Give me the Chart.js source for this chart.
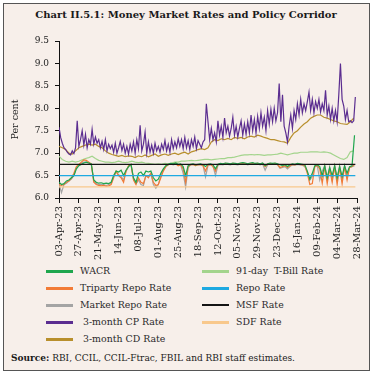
<!DOCTYPE html>
<html>
<head>
<meta charset="utf-8">
<script src="https://cdn.jsdelivr.net/npm/chart.js@4.4.0/dist/chart.umd.min.js"></script>
<style>
  html, body { margin: 0; padding: 0; background: #ffffff; }
  #card { position: absolute; left: 3px; top: 3px; width: 367px; height: 368px; box-sizing: border-box; border: 1px solid #555; background: #f7efea; }
  #title { position: absolute; left: 0; top: 9px; width: 372px; text-align: center; font: bold 10px "DejaVu Serif", serif; color: #1a1a1a; white-space: nowrap; }
  #chartWrap { position: absolute; left: 0; top: 0; width: 372px; height: 262px; }
  .lg-line { position: absolute; width: 27px; height: 3px; }
  .lg-text { position: absolute; font: 9.4px "DejaVu Serif", serif; color: #2a2a2a; white-space: pre; line-height: 12px; }
  #source { position: absolute; left: 11px; top: 353px; font: 9px "DejaVu Serif", serif; color: #1a1a1a; white-space: nowrap; }
</style>
</head>
<body>
<div id="card"></div>
<div id="title">Chart II.5.1: Money Market Rates and Policy Corridor</div>
<div id="chartWrap"><canvas id="c" width="372" height="262"></canvas></div>
<div id="legend"></div>
<div id="source"><b>Source:</b> RBI, CCIL, CCIL-Ftrac, FBIL and RBI staff estimates.</div>
<script>
// ---- Tick labels (x axis, every 24 days from 03-Apr-23) ----
const tickLabels = ['03-Apr-23','27-Apr-23','21-May-23','14-Jun-23','08-Jul-23','01-Aug-23','25-Aug-23','18-Sep-23','12-Oct-23','05-Nov-23','29-Nov-23','23-Dec-23','16-Jan-24','09-Feb-24','04-Mar-24','28-Mar-24'];
const tickStepDays = 24;
const yTicks = [6.0, 6.5, 7.0, 7.5, 8.0, 8.5, 9.0, 9.5];

// ---- Series names ----
const seriesNames = ['WACR','91-day  T-Bill Rate','Triparty Repo Rate','Repo Rate','Market Repo Rate','MSF Rate',' 3-month CP Rate','SDF Rate',' 3-month CD Rate'];

// ---- Policy corridor (constant through the year) ----
const policyDays = [0, 358];
const repoRate = [6.5, 6.5];
const msfRate = [6.75, 6.75];
const sdfRate = [6.25, 6.25];

// ---- Overnight rates, one reading every 3 days from 03-Apr-23 ----
const overnightStepDays = 3;
const wacrRate = [
  6.35,6.3,6.32,6.38,6.4,6.45,6.5,6.65,6.72,6.75,
  6.78,6.8,6.78,6.76,6.4,6.35,6.33,6.34,6.32,6.33,
  6.32,6.35,6.5,6.6,6.58,6.62,6.5,6.62,6.7,6.75,
  6.45,6.35,6.55,6.58,6.5,6.6,6.58,6.6,6.45,6.38,
  6.42,6.55,6.65,6.72,6.75,6.77,6.76,6.78,6.75,6.76,
  6.7,6.5,6.72,6.75,6.76,6.74,6.75,6.76,6.74,6.7,
  6.75,6.76,6.74,6.65,6.75,6.77,6.76,6.78,6.77,6.76,
  6.78,6.77,6.76,6.78,6.79,6.78,6.76,6.78,6.79,6.77,
  6.78,6.76,6.78,6.72,6.76,6.78,6.77,6.78,6.76,6.74,
  6.72,6.74,6.7,6.74,6.76,6.75,6.77,6.76,6.75,6.74,
  6.6,6.42,6.55,6.72,6.74,6.7,6.5,6.72,6.45,6.68,
  6.5,6.72,6.45,6.7,6.48,6.72,6.55,6.7,6.72,7.4
];
const tripartyRate = [
  6.3,6.28,6.3,6.35,6.38,6.45,6.55,6.7,6.75,6.8,
  6.85,6.84,6.8,6.76,6.35,6.3,6.28,6.27,6.28,6.26,
  6.27,6.3,6.45,6.6,6.5,6.45,6.35,6.6,6.72,6.75,
  6.4,6.3,6.45,6.35,6.32,6.5,6.45,6.55,6.35,6.28,
  6.3,6.45,6.6,6.7,6.74,6.76,6.75,6.77,6.72,6.74,
  6.65,6.35,6.7,6.74,6.75,6.72,6.74,6.75,6.72,6.6,
  6.74,6.75,6.7,6.6,6.74,6.76,6.75,6.77,6.76,6.75,
  6.77,6.76,6.75,6.77,6.78,6.77,6.75,6.77,6.78,6.76,
  6.77,6.75,6.77,6.7,6.75,6.77,6.76,6.77,6.75,6.68,
  6.7,6.72,6.68,6.72,6.75,6.74,6.76,6.75,6.74,6.72,
  6.55,6.3,6.32,6.7,6.73,6.65,6.33,6.7,6.32,6.65,
  6.35,6.7,6.3,6.68,6.32,6.7,6.4,6.68,6.7,6.75
];
const marketRepoRate = [
  6.32,6.12,6.3,6.33,6.38,6.42,6.5,6.68,6.74,6.78,
  6.8,6.8,6.78,6.75,6.38,6.32,6.3,6.3,6.3,6.28,
  6.3,6.32,6.48,6.58,6.52,6.48,6.4,6.6,6.7,6.74,
  6.42,6.32,6.4,6.3,6.28,6.5,6.48,6.55,6.3,6.22,
  6.3,6.5,6.62,6.7,6.74,6.76,6.74,6.76,6.73,6.74,
  6.55,6.24,6.68,6.74,6.75,6.72,6.74,6.74,6.72,6.47,
  6.72,6.74,6.72,6.5,6.73,6.75,6.74,6.76,6.75,6.74,
  6.76,6.75,6.74,6.76,6.77,6.76,6.74,6.76,6.77,6.75,
  6.76,6.74,6.76,6.62,6.74,6.76,6.75,6.76,6.74,6.66,
  6.68,6.7,6.65,6.7,6.74,6.73,6.75,6.74,6.73,6.7,
  6.58,6.4,6.48,6.7,6.72,6.4,6.6,6.72,6.42,6.7,
  6.4,6.72,6.42,6.72,6.4,6.72,6.45,6.68,6.7,6.72
];

// ---- 91-day T-Bill and 3-month CD, one reading every 4 days ----
const slowStepDays = 4;
const tbillRate = [
  6.93,6.86,6.82,6.8,6.82,6.8,6.82,6.85,6.88,6.9,
  6.93,6.88,6.84,6.82,6.8,6.8,6.79,6.8,6.82,6.8,
  6.79,6.8,6.82,6.8,6.79,6.8,6.78,6.77,6.76,6.75,
  6.76,6.75,6.77,6.76,6.78,6.8,6.8,6.82,6.82,6.83,
  6.84,6.83,6.84,6.85,6.86,6.86,6.85,6.86,6.87,6.88,
  6.88,6.9,6.9,6.91,6.93,6.95,6.96,6.96,6.97,6.96,
  6.97,6.96,6.95,6.96,6.96,6.97,6.98,7.0,6.98,6.96,
  6.98,7.0,7.0,7.02,7.02,7.02,7.03,7.03,7.03,7.02,
  7.03,7.02,7.0,6.96,6.92,6.88,6.86,6.9,7.03,7.05
];
const cdRate = [
  7.15,7.12,7.08,7.0,6.98,7.05,7.12,7.15,7.18,7.2,
  7.18,7.2,7.15,7.12,7.05,7.0,6.97,6.95,6.93,6.95,
  6.92,6.94,6.93,6.9,6.94,6.92,6.96,6.92,6.95,6.98,
  6.93,6.96,6.98,6.95,6.98,7.0,6.97,7.0,7.02,6.98,
  7.03,7.05,7.08,7.1,7.08,7.12,7.25,7.3,7.28,7.32,
  7.3,7.33,7.3,7.35,7.33,7.35,7.32,7.36,7.38,7.36,
  7.4,7.38,7.35,7.33,7.3,7.3,7.28,7.26,7.25,7.22,
  7.35,7.45,7.5,7.58,7.65,7.7,7.78,7.82,7.85,7.85,
  7.8,7.78,7.75,7.72,7.7,7.66,7.65,7.64,7.7,7.78
];

// ---- 3-month CP, one reading every 2 days ----
const cpStepDays = 2;
const cpRate = [
  7.58,7.35,7.22,7.12,7.08,7.02,6.98,6.96,7.05,6.99,7.12,
  7.72,7.15,7.3,7.5,7.18,7.42,7.12,7.3,7.2,7.53,
  7.2,7.36,7.22,7.3,7.12,7.26,7.08,7.3,7.05,7.2,
  7.1,7.18,7.02,7.22,7.0,7.12,7.26,7.06,7.2,7.0,7.15,6.98,7.2,7.05,7.25,
  7.0,7.3,7.1,7.62,7.05,7.2,7.47,7.0,7.25,7.02,7.18,7.0,7.22,7.05,7.15,
  7.02,7.2,7.08,7.28,7.05,7.2,7.02,7.3,7.1,7.25,7.12,7.32,7.15,7.3,7.1,
  7.35,7.12,7.28,7.08,7.3,7.15,7.36,7.1,7.28,7.2,7.12,7.25,7.3,
  8.1,7.7,7.3,7.55,7.3,7.45,7.25,7.72,7.4,7.6,7.35,7.78,7.45,7.6,7.38,7.55,7.8,
  7.4,7.6,7.36,7.55,7.72,7.4,7.65,7.42,7.7,7.45,7.85,7.5,7.75,7.45,7.82,
  7.55,7.9,7.6,7.8,7.5,7.95,7.65,7.98,7.7,8.0,7.72,7.9,8.55,7.7,8.3,
  7.6,7.45,7.25,7.6,7.85,7.55,7.95,7.75,8.1,7.85,8.2,7.9,8.1,7.95,8.15,
  8.36,7.95,8.2,7.9,8.15,8.0,8.2,7.92,8.1,7.95,8.4,7.85,8.05,7.75,8.0,
  7.72,7.95,7.7,8.3,9.0,8.2,8.05,7.75,7.95,7.7,7.72,7.68,7.72,8.25
];

// ---- Styling ----
const seriesColors = ['#1fa64e','#a3d48c','#f27b36','#1ea9e1','#a4a4a4','#141414','#5b2d90','#f8c88c','#b88f2c'];

function pts(values, step) { return values.map((v, i) => ({ x: i * step, y: v })); }
function ptsAt(values, days) { return values.map((v, i) => ({ x: days[i], y: v })); }

const seriesData = [
  pts(wacrRate, overnightStepDays),
  pts(tbillRate, slowStepDays),
  pts(tripartyRate, overnightStepDays),
  ptsAt(repoRate, policyDays),
  pts(marketRepoRate, overnightStepDays),
  ptsAt(msfRate, policyDays),
  pts(cpRate, cpStepDays),
  ptsAt(sdfRate, policyDays),
  pts(cdRate, slowStepDays)
];
const drawOrder = [6, 9, 7, 1, 8, 2, 4, 3, 5];

const datasets = seriesNames.map((name, i) => ({
  label: name.trim(),
  data: seriesData[i],
  borderColor: seriesColors[i],
  backgroundColor: seriesColors[i],
  borderWidth: (i === 5) ? 1.1 : 1.2,
  pointRadius: 0,
  tension: 0,
  fill: false,
  order: drawOrder[i]
}));

new Chart(document.getElementById('c'), {
  type: 'line',
  data: { datasets },
  options: {
    responsive: false,
    animation: false,
    devicePixelRatio: 1,
    layout: { padding: { left: 6, top: 41, right: 11, bottom: 0 } },
    plugins: { legend: { display: false }, tooltip: { enabled: false } },
    scales: {
      x: {
        type: 'linear',
        min: 0,
        max: tickStepDays * (tickLabels.length - 1),
        afterFit: (s) => { s.height = 64; },
        grid: { drawOnChartArea: false, drawTicks: true, tickLength: 5, color: '#111' },
        border: { display: true, color: '#111', width: 1 },
        ticks: {
          stepSize: tickStepDays,
          autoSkip: false,
          maxRotation: 90,
          minRotation: 90,
          padding: 3,
          color: '#222',
          font: { family: 'DejaVu Serif', size: 10 },
          callback: (v) => tickLabels[Math.round(v / tickStepDays)]
        }
      },
      y: {
        min: yTicks[0],
        max: yTicks[yTicks.length - 1],
        afterFit: (s) => { s.width = 53; },
        grid: { drawOnChartArea: false, drawTicks: true, tickLength: 4, color: '#111' },
        border: { display: true, color: '#111', width: 1 },
        title: { display: true, text: 'Per cent', color: '#222', font: { family: 'DejaVu Serif', size: 9.5 } },
        ticks: {
          stepSize: 0.5,
          padding: 6,
          color: '#222',
          font: { family: 'DejaVu Serif', size: 9 },
          callback: (v) => Number(v).toFixed(1)
        }
      }
    }
  }
});

// ---- HTML legend (two columns) ----
const legend = document.getElementById('legend');
const rowY = [271, 288, 305, 322, 339];
seriesNames.forEach((name, i) => {
  const col = i % 2, row = Math.floor(i / 2);
  const lx = col === 0 ? 46 : 202;
  const tx = col === 0 ? 80 : 236;
  const cy = rowY[row];
  const line = document.createElement('div');
  line.className = 'lg-line';
  line.style.left = lx + 'px';
  line.style.top = (cy - 1.5) + 'px';
  line.style.background = seriesColors[i];
  if (i === 5) { line.style.height = '1.5px'; line.style.top = (cy - 0.75) + 'px'; }
  legend.appendChild(line);
  const t = document.createElement('div');
  t.className = 'lg-text';
  t.style.left = tx + 'px';
  t.style.top = (cy - 6.5) + 'px';
  t.textContent = name;
  legend.appendChild(t);
});
</script>
</body>
</html>
